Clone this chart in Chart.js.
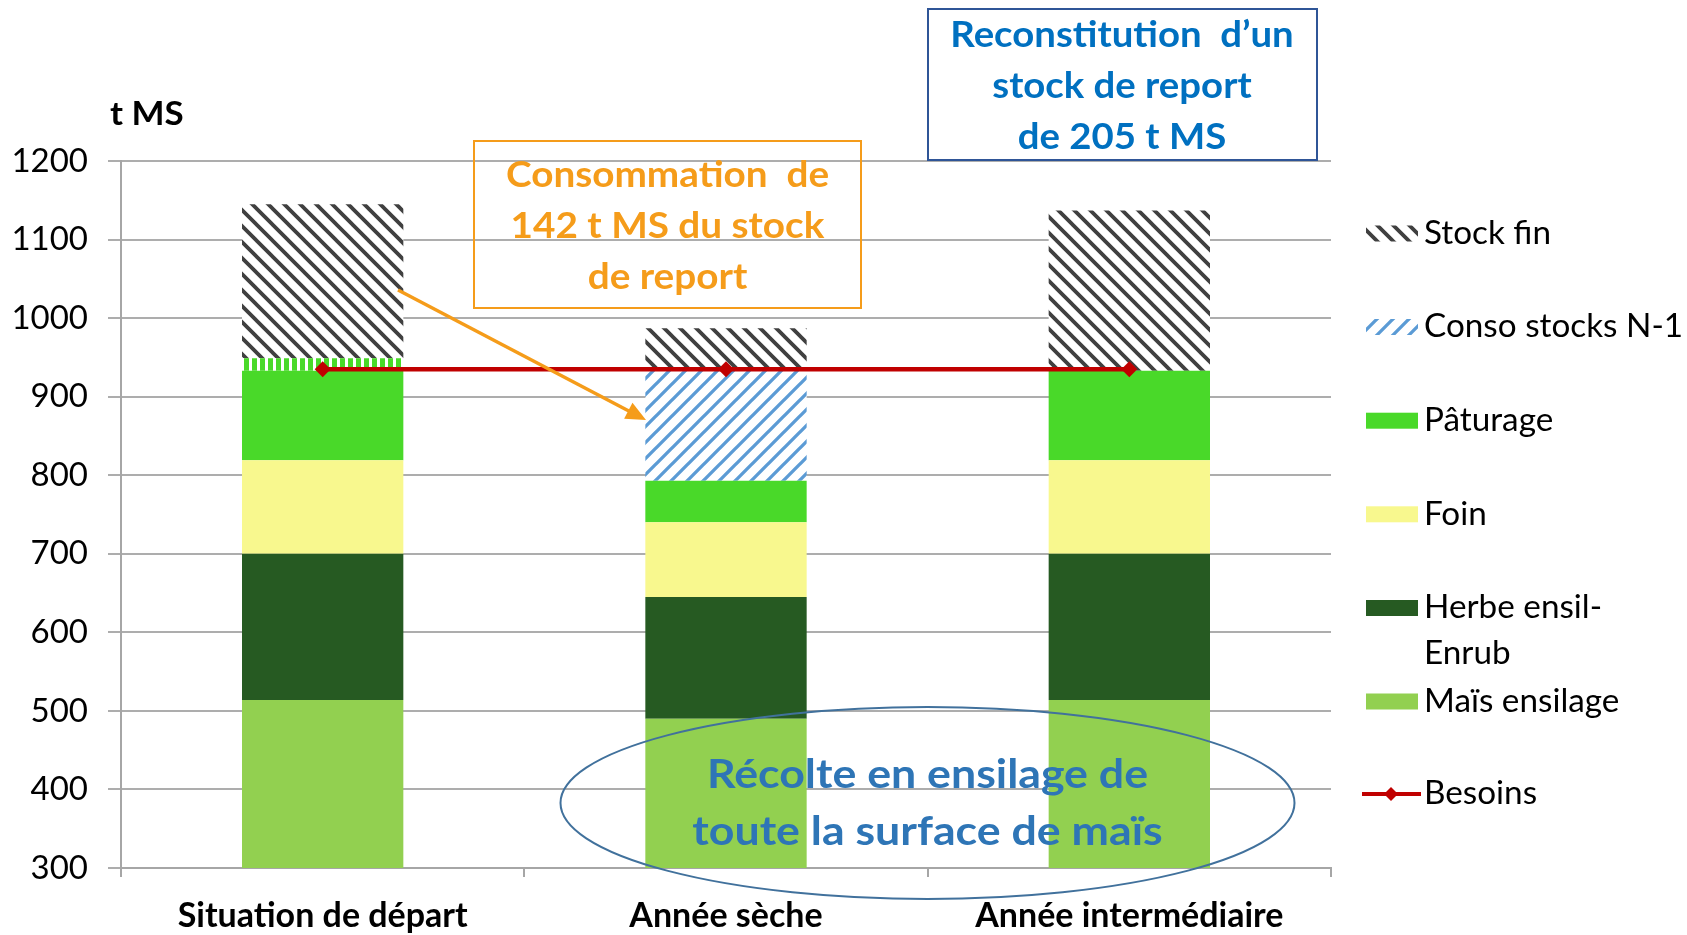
<!DOCTYPE html>
<html><head><meta charset="utf-8">
<script src="https://cdn.jsdelivr.net/npm/chart.js@4.4.1/dist/chart.umd.min.js"></script>
<style>html,body{margin:0;padding:0;background:#fff}#wrap{width:1687px;height:935px}</style>
</head><body><div id="wrap"><canvas id="c" width="1687" height="935"></canvas></div>
<script>
// ---- data ----
const categories = ['Situation de départ', 'Année sèche', 'Année intermédiaire'];
const maisEnsilage   = [514, 490, 514];
const herbeEnsilEnrub= [186, 155, 186];
const foin           = [119,  95, 119];
const paturage       = [114,  53, 114];
const consoStocksN1  = [ 16, 142,   0];
const stockFin       = [196,  52, 204];
const besoins        = [935, 935, 935];
const yMin = 300, yMax = 1200, yStep = 100;
const yTitle = 't MS';
const noteOrange = ['Consommation  de', '142 t MS du stock', 'de report'];
const noteBlue   = ['Reconstitution  d\u2019un', 'stock de report', 'de 205 t MS'];
const noteEllipse= ['Récolte en ensilage de', 'toute la surface de maïs'];

// ---- patterns ----
function diagPattern(color, dir, T, w) {
  const c = document.createElement('canvas'); c.width = T; c.height = T;
  const g = c.getContext('2d');
  g.fillStyle = '#fff'; g.fillRect(0, 0, T, T);
  g.strokeStyle = color; g.lineWidth = w; g.beginPath();
  for (let o = -T; o <= T; o += T) {
    if (dir === 'down') { g.moveTo(o - 2, -2); g.lineTo(o + T + 2, T + 2); }
    else { g.moveTo(o - 2, T + 2); g.lineTo(o + T + 2, -2); }
  }
  g.stroke();
  return g.createPattern(c, 'repeat');
}
function vStripePattern(color, T, w) {
  const c = document.createElement('canvas'); c.width = T; c.height = T;
  const g = c.getContext('2d');
  g.fillStyle = color; g.fillRect(0, 0, T, T);
  g.fillStyle = '#fff'; g.fillRect(1, 0, w, T);
  return g.createPattern(c, 'repeat');
}
const patStock = diagPattern('#404040', 'down', 16, 3.8);
const patConso = diagPattern('#5B9BD5', 'up', 16, 3.3);
const patGreenStripe = vStripePattern('#49D929', 8, 3);

const COL = {
  mais: '#92D050', herbe: '#265A22', foin: '#F8F88E', pat: '#49D929', red: '#C00000'
};
const FONT = 'Lato, "Open Sans", sans-serif';

function sText(ctx, t, x, y, sx) {
  ctx.save();
  ctx.translate(x, y); ctx.scale(sx, 1);
  ctx.fillText(t, 0, 0);
  ctx.restore();
}

const annotations = {
  id: 'annotations',
  afterDraw(chart) {
    const ctx = chart.ctx;
    ctx.save();
    // y title
    ctx.fillStyle = '#000'; ctx.font = 'bold 33px ' + FONT;
    ctx.textAlign = 'left'; ctx.textBaseline = 'middle';
    sText(ctx, yTitle, 110, 114, 1.06);

    // orange box
    ctx.strokeStyle = '#F59C1A'; ctx.lineWidth = 2;
    ctx.strokeRect(474, 141, 387, 167);
    ctx.fillStyle = '#F59C1A'; ctx.font = 'bold 36px ' + FONT;
    ctx.textAlign = 'center';
    noteOrange.forEach((t, i) => sText(ctx, t, 667.5, 175 + i * 51, 1.075));
    // arrow
    const x1 = 398, y1 = 290, x2 = 646, y2 = 420;
    const ang = Math.atan2(y2 - y1, x2 - x1);
    ctx.strokeStyle = '#F59C1A'; ctx.lineWidth = 3.5;
    ctx.beginPath(); ctx.moveTo(x1, y1);
    ctx.lineTo(x2 - 14 * Math.cos(ang), y2 - 14 * Math.sin(ang)); ctx.stroke();
    ctx.beginPath();
    ctx.moveTo(x2, y2);
    ctx.lineTo(x2 - 20 * Math.cos(ang) + 9 * Math.sin(ang), y2 - 20 * Math.sin(ang) - 9 * Math.cos(ang));
    ctx.lineTo(x2 - 20 * Math.cos(ang) - 9 * Math.sin(ang), y2 - 20 * Math.sin(ang) + 9 * Math.cos(ang));
    ctx.closePath(); ctx.fill();

    // blue box
    ctx.strokeStyle = '#2F5597'; ctx.lineWidth = 2;
    ctx.strokeRect(928, 9, 389, 151);
    ctx.fillStyle = '#0070C0'; ctx.font = 'bold 36px ' + FONT;
    noteBlue.forEach((t, i) => sText(ctx, t, 1122, 35 + i * 51, 1.065));

    // ellipse
    ctx.strokeStyle = '#41719C'; ctx.lineWidth = 2;
    ctx.beginPath(); ctx.ellipse(927.5, 803, 367, 96, 0, 0, Math.PI * 2); ctx.stroke();
    ctx.fillStyle = '#2E75B6'; ctx.font = 'bold 41px ' + FONT;
    noteEllipse.forEach((t, i) => sText(ctx, t, 927.5, 775 + i * 57, 1.09));

    // legend
    const items = [
      { lines: ['Stock fin'], y: 233.5, fill: patStock },
      { lines: ['Conso stocks N-1'], y: 327, fill: patConso },
      { lines: ['Pâturage'], y: 420.7, fill: COL.pat },
      { lines: ['Foin'], y: 514.3, fill: COL.foin },
      { lines: ['Herbe ensil-', 'Enrub'], y: 608, fill: COL.herbe },
      { lines: ['Maïs ensilage'], y: 701.5, fill: COL.mais },
      { lines: ['Besoins'], y: 794, line: true }
    ];
    ctx.font = '32px ' + FONT; ctx.textAlign = 'left'; ctx.textBaseline = 'middle';
    items.forEach(it => {
      if (it.line) {
        ctx.strokeStyle = COL.red; ctx.lineWidth = 4;
        ctx.beginPath(); ctx.moveTo(1362, it.y); ctx.lineTo(1421, it.y); ctx.stroke();
        ctx.fillStyle = COL.red; ctx.beginPath();
        ctx.moveTo(1391, it.y - 7); ctx.lineTo(1398, it.y); ctx.lineTo(1391, it.y + 7); ctx.lineTo(1384, it.y);
        ctx.closePath(); ctx.fill();
      } else {
        ctx.fillStyle = it.fill; ctx.fillRect(1366, it.y - 8, 52, 16);
      }
      ctx.fillStyle = '#000';
      it.lines.forEach((t, i) => sText(ctx, t, 1424, it.y + i * 46, 1.04));
    });
    ctx.restore();
  }
};

const barBase = { type: 'bar', barPercentage: 0.8, categoryPercentage: 0.5, borderWidth: 0, order: 1, stack: 'bars' };

new Chart(document.getElementById('c'), {
  data: {
    labels: categories,
    datasets: [
      { ...barBase, label: 'Maïs ensilage', data: maisEnsilage, backgroundColor: COL.mais },
      { ...barBase, label: 'Herbe ensil-Enrub', data: herbeEnsilEnrub, backgroundColor: COL.herbe },
      { ...barBase, label: 'Foin', data: foin, backgroundColor: COL.foin },
      { ...barBase, label: 'Pâturage', data: paturage, backgroundColor: COL.pat },
      { ...barBase, label: 'Conso stocks N-1', data: consoStocksN1, backgroundColor: [patGreenStripe, patConso, patConso] },
      { ...barBase, label: 'Stock fin', data: stockFin, backgroundColor: patStock },
      { type: 'line', label: 'Besoins', data: besoins, stack: 'need', order: 0,
        borderColor: COL.red, borderWidth: 4.5, pointStyle: 'rectRot', pointRadius: 8,
        pointBackgroundColor: COL.red, pointBorderWidth: 0, tension: 0 }
    ]
  },
  options: {
    responsive: false, animation: false,
    layout: { padding: { top: 161, right: 356, bottom: 0, left: 0 } },
    plugins: { legend: { display: false }, tooltip: { enabled: false } },
    scales: {
      x: {
        stacked: true, offset: true,
        grid: { drawOnChartArea: false, drawTicks: true, tickLength: 9, color: '#A6A6A6', lineWidth: 2, offset: true },
        border: { color: '#A6A6A6', width: 2 },
        ticks: { color: '#000', font: { family: FONT, size: 34, weight: 'bold' }, padding: 19, maxRotation: 0 },
        afterFit(s) { s.height = 67; }
      },
      y: {
        stacked: true, min: yMin, max: yMax,
        grid: { color: '#ADADAD', lineWidth: 2, tickLength: 13 },
        border: { color: '#A6A6A6', width: 2 },
        ticks: { stepSize: yStep, color: '#000', font: { family: FONT, size: 33 }, padding: 20,
                 callback: v => String(v) },
        afterFit(s) { s.width = 121; }
      }
    }
  },
  plugins: [annotations]
});
</script>
</body></html>
